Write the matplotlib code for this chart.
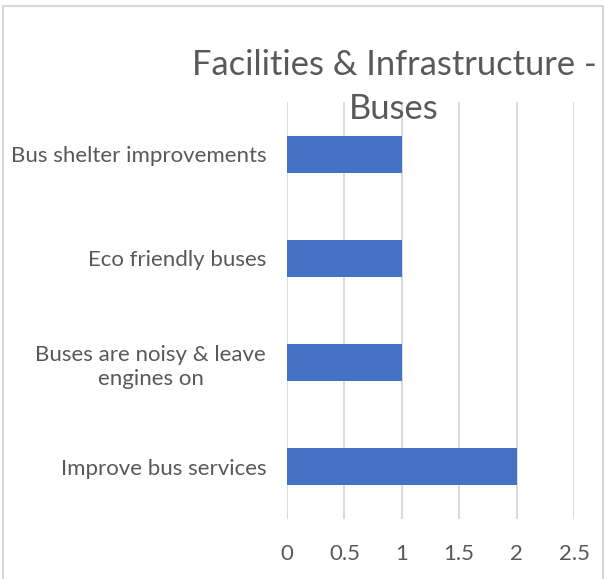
import matplotlib.pyplot as plt
from matplotlib.patches import Rectangle

plt.rcParams["font.family"] = ["Lato", "DejaVu Sans"]

categories = [
    "Improve bus services",
    "Buses are noisy & leave\nengines on",
    "Eco friendly buses",
    "Bus shelter improvements",
]
values = [2, 1, 1, 1]
xticks = [0, 0.5, 1, 1.5, 2, 2.5]
xtick_labels = ["0", "0.5", "1", "1.5", "2", "2.5"]

BAR_BLUE = "#4472c4"
TEXT_GRAY = "#595959"
GRID_GRAY = "#d9d9d9"

W, H = 605, 579
fig = plt.figure(figsize=(W / 100, H / 100), dpi=100)

# plot area in pixels: x 287..574, y 102..519
left, right, top, bottom = 287, 574, 102, 519
ax = fig.add_axes([left / W, 1 - bottom / H, (right - left) / W, (bottom - top) / H])

ypos = list(range(len(categories)))
ax.barh(ypos, values, height=0.355, color=BAR_BLUE, zorder=3)
ax.set_xlim(0, 2.5)
ax.set_ylim(-0.5, len(categories) - 0.5)

ax.set_xticks(xticks)
ax.set_xticklabels(xtick_labels)
ax.set_yticks(ypos)
ax.set_yticklabels(categories, multialignment="center", linespacing=1.25)
ax.tick_params(axis="both", length=0, labelsize=16, labelcolor=TEXT_GRAY)
ax.tick_params(axis="x", pad=18)
ax.tick_params(axis="y", pad=15)
ax.grid(axis="x", color=GRID_GRAY, linewidth=1.3, zorder=0)
for s in ax.spines.values():
    s.set_visible(False)

fig.text(394 / W, 1 - 87 / H, "Facilities & Infrastructure -\nBuses",
         ha="center", va="center", fontsize=24.8, color=TEXT_GRAY,
         linespacing=1.45, zorder=5)

# outer chart border
fig.patches.append(Rectangle((3 / W, -0.01), 600 / W, 1 - 6 / H + 0.01,
                             transform=fig.transFigure, fill=False,
                             edgecolor=GRID_GRAY, linewidth=1.5))

fig.savefig("out.png", dpi=100)
